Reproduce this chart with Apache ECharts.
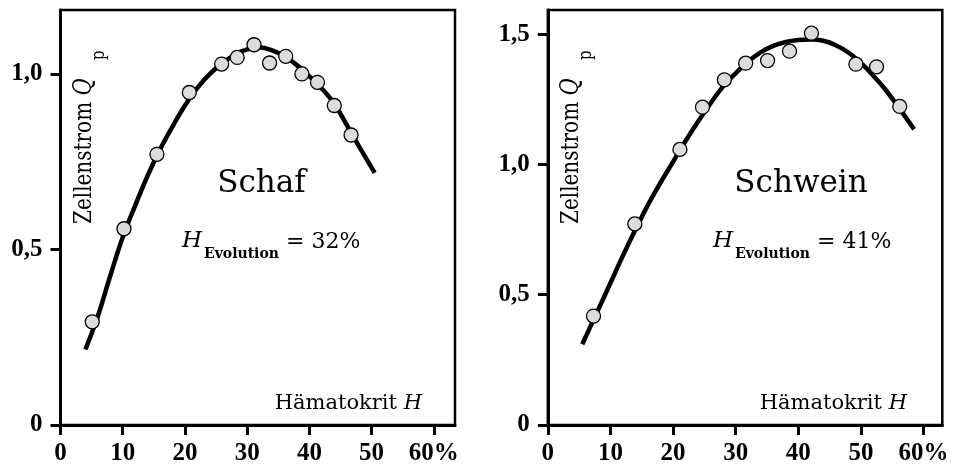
<!DOCTYPE html>
<html>
<head>
<meta charset="utf-8">
<script src="https://cdn.jsdelivr.net/npm/echarts@6/dist/echarts.min.js"></script>
<style>
  html, body { margin: 0; padding: 0; background: #fff; }
  #chart { width: 958px; height: 465px; }
</style>
</head>
<body>
<div id="chart"></div>
<script>
// tick labels
const xTicks = [0, 10, 20, 30, 40, 50, 60];
const yTicksSchaf = [0, 0.5, 1.0];
const yTicksSchwein = [0, 0.5, 1.0, 1.5];

// Schaf: measured points
const schafMessX = [5.1, 10.2, 15.5, 20.7, 25.9, 28.4, 31.1, 33.6, 36.2, 38.8, 41.3, 44.0, 46.7];
const schafMessY = [0.294, 0.559, 0.771, 0.947, 1.028, 1.047, 1.083, 1.031, 1.050, 1.000, 0.976, 0.910, 0.826];
// Schaf: fitted curve
const schafKurveX = [4, 6, 8, 10, 12, 14, 16, 18, 20, 22, 24, 26, 28, 30, 32, 34, 36, 38, 40, 42, 44, 46, 48, 50.5];
const schafKurveY = [0.215, 0.31, 0.425, 0.535, 0.625, 0.71, 0.785, 0.85, 0.91, 0.96, 1.0, 1.03, 1.055, 1.07, 1.075, 1.067, 1.05, 1.025, 0.993, 0.958, 0.915, 0.855, 0.793, 0.718];

// Schwein: measured points
const schweinMessX = [7.3, 13.9, 21.1, 24.7, 28.2, 31.6, 35.1, 38.6, 42.1, 49.2, 52.5, 56.2];
const schweinMessY = [0.418, 0.772, 1.058, 1.220, 1.325, 1.389, 1.399, 1.435, 1.504, 1.385, 1.375, 1.223];
// Schwein: fitted curve
const schweinKurveX = [5.5, 8, 10, 12, 14, 16, 18, 20, 22, 24, 26, 28, 30, 32, 34, 36, 38, 40, 42, 44, 46, 48, 50, 52, 54, 56, 58.5];
const schweinKurveY = [0.31, 0.44, 0.545, 0.65, 0.75, 0.845, 0.93, 1.01, 1.09, 1.165, 1.235, 1.3, 1.35, 1.395, 1.43, 1.455, 1.47, 1.478, 1.48, 1.475, 1.458, 1.43, 1.39, 1.34, 1.285, 1.22, 1.135];

const pairs = (xs, ys) => xs.map((x, i) => [x, ys[i]]);

const chart = echarts.init(document.getElementById('chart'));

const tickFont = {
    fontFamily: 'Liberation Serif',
    fontWeight: 'bold',
    fontSize: 25,
    color: '#000'
};

function xAxisFor(gridIndex, max) {
    return {
        type: 'value',
        gridIndex: gridIndex,
        min: 0,
        max: max,
        interval: 10,
        splitLine: { show: false },
        axisLine: { lineStyle: { color: '#000', width: 3 } },
        axisTick: { length: 10, lineStyle: { color: '#000', width: 3 }, customValues: xTicks },
        axisLabel: Object.assign({
            margin: 16,
            customValues: xTicks,
            formatter: v => v === 60 ? '60%' : String(v)
        }, tickFont)
    };
}

function yAxisFor(gridIndex, max, ticks) {
    return {
        type: 'value',
        gridIndex: gridIndex,
        min: 0,
        max: max,
        interval: 0.5,
        splitLine: { show: false },
        axisLine: { lineStyle: { color: '#000', width: 3 } },
        axisTick: { length: 10, lineStyle: { color: '#000', width: 3 }, customValues: ticks },
        axisLabel: Object.assign({
            margin: 18,
            customValues: ticks,
            formatter: v => v === 0 ? '0' : v.toFixed(1).replace('.', ',')
        }, tickFont)
    };
}

function curve(idx, data) {
    return {
        type: 'line',
        xAxisIndex: idx,
        yAxisIndex: idx,
        data: data,
        smooth: 0.4,
        showSymbol: false,
        lineStyle: { color: '#000', width: 4.5 },
        z: 2,
        silent: true
    };
}

function points(idx, data) {
    return {
        type: 'scatter',
        xAxisIndex: idx,
        yAxisIndex: idx,
        data: data,
        symbolSize: 14,
        itemStyle: { color: '#dcdcdc', borderColor: '#000', borderWidth: 1.3, opacity: 1 },
        z: 3,
        silent: true
    };
}

const serif = '"DejaVu Serif"';

function panelTexts(cx, yx, animal, percent, evoLeft, hamRight) {
    return [
        {
            type: 'text', x: yx, y: 224, rotation: Math.PI / 2, scaleY: 1.25,
            style: {
                text: 'Zellenstrom {q|Q}',
                font: '20px ' + serif,
                fill: '#000',
                textAlign: 'left',
                textVerticalAlign: 'middle',
                rich: { q: { fontFamily: 'DejaVu Serif', fontStyle: 'italic', fontSize: 21 } }
            }
        },
        {
            type: 'text', x: yx + 15, y: 60, rotation: Math.PI / 2, scaleY: 1.2,
            style: { text: 'p', font: '15px ' + serif, fill: '#000', textAlign: 'left', textVerticalAlign: 'middle' }
        },
        {
            type: 'text', x: cx, y: 199,
            style: { text: animal, font: '31px ' + serif, fill: '#000', textAlign: 'center', textVerticalAlign: 'bottom' }
        },
        {
            type: 'text', x: evoLeft, y: 253,
            style: { text: 'H', font: 'italic 23px ' + serif, fill: '#000', textAlign: 'left', textVerticalAlign: 'bottom' }
        },
        {
            type: 'text', x: evoLeft + 22, y: 261,
            style: { text: 'Evolution', font: 'bold 14px ' + serif, fill: '#000', textAlign: 'left', textVerticalAlign: 'bottom' }
        },
        {
            type: 'text', x: evoLeft + 104, y: 253,
            style: { text: '= ' + percent + '%', font: '22px ' + serif, fill: '#000', textAlign: 'left', textVerticalAlign: 'bottom' }
        },
        {
            type: 'text', x: hamRight, y: 414,
            style: {
                text: 'Hämatokrit {i|H}',
                font: '21px ' + serif,
                fill: '#000',
                textAlign: 'right',
                textVerticalAlign: 'bottom',
                rich: { i: { fontFamily: 'DejaVu Serif', fontStyle: 'italic', fontSize: 21 } }
            }
        }
    ];
}

const options = {
    animation: false,
    backgroundColor: '#fff',
    grid: [
        { left: 60.5, top: 10, width: 394.5, height: 415, show: true, borderColor: '#000', borderWidth: 2.5, outerBoundsMode: 'none' },
        { left: 547.8, top: 10, width: 394.5, height: 415, show: true, borderColor: '#000', borderWidth: 2.5, outerBoundsMode: 'none' }
    ],
    xAxis: [xAxisFor(0, 63.4), xAxisFor(1, 63.0)],
    yAxis: [yAxisFor(0, 1.182, yTicksSchaf), yAxisFor(1, 1.593, yTicksSchwein)],
    series: [
        curve(0, pairs(schafKurveX, schafKurveY)),
        points(0, pairs(schafMessX, schafMessY)),
        curve(1, pairs(schweinKurveX, schweinKurveY)),
        points(1, pairs(schweinMessX, schweinMessY))
    ],
    graphic: [].concat(
        panelTexts(261.5, 84, 'Schaf', 32, 182, 422),
        panelTexts(801, 571, 'Schwein', 41, 713, 907)
    )
};

chart.setOption(options);
</script>
</body>
</html>
